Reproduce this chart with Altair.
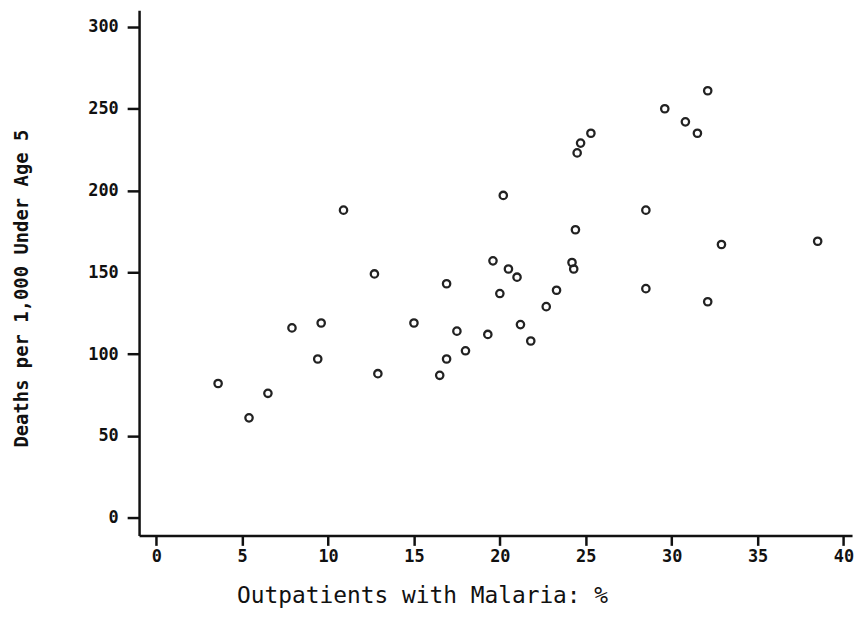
import altair as alt
import pandas as pd

malaria_pct = [3.6, 5.4, 6.5, 7.9, 9.6, 9.4, 10.9, 12.7, 12.9, 15.0,
               16.9, 17.5, 16.9, 16.5, 18.0, 19.3, 19.6, 20.0, 20.2, 20.5,
               21.0, 21.2, 21.8, 22.7, 23.3, 24.2, 24.3, 24.4, 24.5, 24.7,
               25.3, 28.5, 28.5, 29.6, 30.8, 31.5, 32.1, 32.1, 32.9, 38.5]
deaths_u5 = [82, 61, 76, 116, 119, 97, 188, 149, 88, 119,
             143, 114, 97, 87, 102, 112, 157, 137, 197, 152,
             147, 118, 108, 129, 139, 156, 152, 176, 223, 229,
             235, 188, 140, 250, 242, 235, 261, 132, 167, 169]

x_ticks = [0, 5, 10, 15, 20, 25, 30, 35, 40]
y_ticks = [0, 50, 100, 150, 200, 250, 300]

df = pd.DataFrame({"x": malaria_pct, "y": deaths_u5})

FONT = "DejaVu Sans Mono"

chart = alt.Chart(df).mark_point(
    shape="circle", filled=False, size=55, strokeWidth=2.3, color="#222222", opacity=1
).encode(
    x=alt.X("x:Q",
            scale=alt.Scale(domain=[-1, 40.5], nice=False, zero=False),
            axis=alt.Axis(values=x_ticks, title="Outpatients with Malaria: %",
                          grid=False, domainColor="#111", domainWidth=2.5,
                          tickColor="#111", tickWidth=2.5, tickSize=10,
                          labelFont=FONT, labelFontSize=17, labelFontWeight="bold",
                          labelColor="#111", labelPadding=3,
                          titleFont=FONT, titleFontSize=23, titleFontWeight="normal",
                          titleColor="#111", titleX=285, titleY=61,
                          titleAlign="center", titleBaseline="middle")),
    y=alt.Y("y:Q",
            scale=alt.Scale(domain=[-10.9, 310.3], nice=False, zero=False),
            axis=alt.Axis(values=y_ticks, title="Deaths per 1,000 Under Age 5",
                          grid=False, domainColor="#111", domainWidth=2.5,
                          tickColor="#111", tickWidth=2.5, tickSize=12,
                          labelFont=FONT, labelFontSize=17, labelFontWeight="bold",
                          labelColor="#111", labelPadding=9,
                          titleFont=FONT, titleFontSize=19, titleFontWeight="bold",
                          titleColor="#111", titleX=-118, titleY=280,
                          titleAngle=-90, titleAlign="center", titleBaseline="middle")),
).properties(
    width=718, height=529,
    background="white",
    autosize=alt.AutoSizeParams(type="none"),
    padding={"left": 132, "top": 0, "right": 4, "bottom": 80},
).configure_view(stroke=None)

chart.save("out.html", embed_options={"renderer": "svg", "actions": False})
